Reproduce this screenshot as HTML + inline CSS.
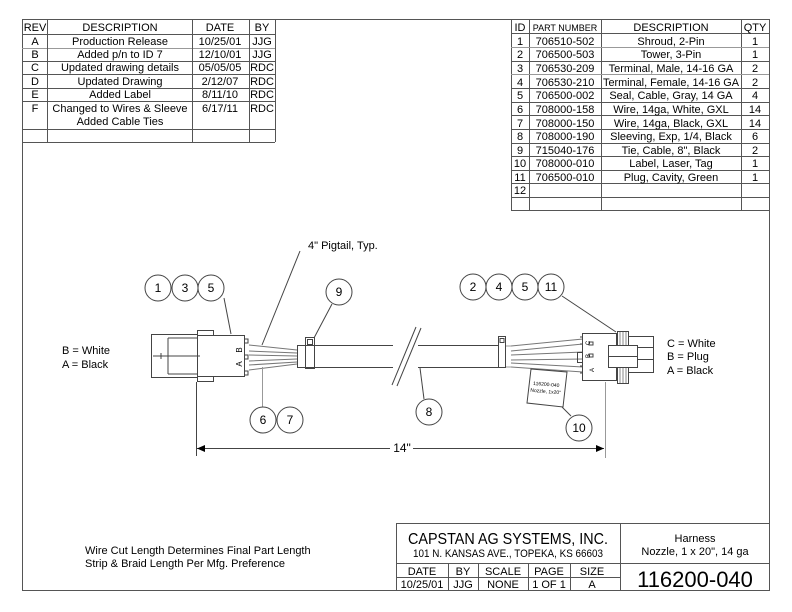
<!DOCTYPE html>
<html><head><meta charset="utf-8"><style>
html,body{margin:0;padding:0;background:#fff}
svg{display:block}
text{font-family:"Liberation Sans",Arial,sans-serif;fill:#000}
</style></head><body>
<svg width="792" height="612" viewBox="0 0 792 612" xmlns="http://www.w3.org/2000/svg">
<g stroke="#555" stroke-width="1" fill="none" shape-rendering="crispEdges">
<rect x="22.5" y="19.5" width="747" height="571"/>
<line x1="22" y1="34.5" x2="275" y2="34.5"/>
<line x1="22" y1="48.5" x2="275" y2="48.5" stroke="#999"/>
<line x1="22" y1="61.5" x2="275" y2="61.5"/>
<line x1="22" y1="74.5" x2="275" y2="74.5"/>
<line x1="22" y1="88.5" x2="275" y2="88.5"/>
<line x1="22" y1="101.5" x2="275" y2="101.5"/>
<line x1="22" y1="129.5" x2="275" y2="129.5"/>
<line x1="22" y1="142.5" x2="275" y2="142.5"/>
<line x1="47.5" y1="19" x2="47.5" y2="142"/>
<line x1="192.5" y1="19" x2="192.5" y2="142"/>
<line x1="249.5" y1="19" x2="249.5" y2="142"/>
<line x1="275.5" y1="19" x2="275.5" y2="142"/>
<line x1="511.5" y1="19" x2="511.5" y2="210"/>
<line x1="529.5" y1="19" x2="529.5" y2="210"/>
<line x1="601.5" y1="19" x2="601.5" y2="210"/>
<line x1="741.5" y1="19" x2="741.5" y2="210"/>
<line x1="511" y1="33.5" x2="769" y2="33.5"/>
<line x1="511" y1="47.5" x2="769" y2="47.5" stroke="#999"/>
<line x1="511" y1="61.5" x2="769" y2="61.5"/>
<line x1="511" y1="74.5" x2="769" y2="74.5" stroke="#999"/>
<line x1="511" y1="88.5" x2="769" y2="88.5"/>
<line x1="511" y1="102.5" x2="769" y2="102.5"/>
<line x1="511" y1="115.5" x2="769" y2="115.5"/>
<line x1="511" y1="129.5" x2="769" y2="129.5"/>
<line x1="511" y1="143.5" x2="769" y2="143.5"/>
<line x1="511" y1="156.5" x2="769" y2="156.5"/>
<line x1="511" y1="170.5" x2="769" y2="170.5"/>
<line x1="511" y1="183.5" x2="769" y2="183.5"/>
<line x1="511" y1="197.5" x2="769" y2="197.5"/>
<line x1="511" y1="210.5" x2="769" y2="210.5"/>
<line x1="396.5" y1="523" x2="396.5" y2="590"/>
<line x1="396" y1="523.5" x2="769" y2="523.5"/>
<line x1="396" y1="563.5" x2="769" y2="563.5"/>
<line x1="396" y1="577.5" x2="620" y2="577.5"/>
<line x1="620.5" y1="523" x2="620.5" y2="590"/>
<line x1="448.5" y1="563" x2="448.5" y2="590"/>
<line x1="478.5" y1="563" x2="478.5" y2="590"/>
<line x1="528.5" y1="563" x2="528.5" y2="590"/>
<line x1="570.5" y1="563" x2="570.5" y2="590"/>
</g>

<g font-size="11" text-anchor="middle">
<text x="35" y="31">REV</text><text x="120" y="31">DESCRIPTION</text><text x="220" y="31">DATE</text><text x="262" y="31">BY</text>
<text x="35" y="45">A</text><text x="120" y="45">Production Release</text><text x="220" y="45">10/25/01</text><text x="262" y="45">JJG</text>
<text x="35" y="58">B</text><text x="120" y="58">Added p/n to ID 7</text><text x="220" y="58">12/10/01</text><text x="262" y="58">JJG</text>
<text x="35" y="71">C</text><text x="120" y="71">Updated drawing details</text><text x="220" y="71">05/05/05</text><text x="262" y="71">RDC</text>
<text x="35" y="85">D</text><text x="120" y="85">Updated Drawing</text><text x="220" y="85">2/12/07</text><text x="262" y="85">RDC</text>
<text x="35" y="98">E</text><text x="120" y="98">Added Label</text><text x="220" y="98">8/11/10</text><text x="262" y="98">RDC</text>
<text x="35" y="112">F</text><text x="120" y="112">Changed to Wires &amp; Sleeve</text><text x="220" y="112">6/17/11</text><text x="262" y="112">RDC</text>
<text x="120" y="125">Added Cable Ties</text>

<text x="520" y="31">ID</text><text x="565" y="31" font-size="9">PART NUMBER</text><text x="671" y="31">DESCRIPTION</text><text x="755" y="31">QTY</text>
<text x="520" y="45">1</text><text x="565" y="45">706510-502</text><text x="671" y="45">Shroud, 2-Pin</text><text x="755" y="45">1</text>
<text x="520" y="58">2</text><text x="565" y="58">706500-503</text><text x="671" y="58">Tower, 3-Pin</text><text x="755" y="58">1</text>
<text x="520" y="72">3</text><text x="565" y="72">706530-209</text><text x="671" y="72">Terminal, Male, 14-16 GA</text><text x="755" y="72">2</text>
<text x="520" y="86">4</text><text x="565" y="86">706530-210</text><text x="671" y="86" textLength="136" lengthAdjust="spacingAndGlyphs">Terminal, Female, 14-16 GA</text><text x="755" y="86">2</text>
<text x="520" y="99">5</text><text x="565" y="99">706500-002</text><text x="671" y="99">Seal, Cable, Gray, 14 GA</text><text x="755" y="99">4</text>
<text x="520" y="113">6</text><text x="565" y="113">708000-158</text><text x="671" y="113">Wire, 14ga, White, GXL</text><text x="755" y="113">14</text>
<text x="520" y="127">7</text><text x="565" y="127">708000-150</text><text x="671" y="127">Wire, 14ga, Black, GXL</text><text x="755" y="127">14</text>
<text x="520" y="140">8</text><text x="565" y="140">708000-190</text><text x="671" y="140">Sleeving, Exp, 1/4, Black</text><text x="755" y="140">6</text>
<text x="520" y="154">9</text><text x="565" y="154">715040-176</text><text x="671" y="154">Tie, Cable, 8", Black</text><text x="755" y="154">2</text>
<text x="520" y="167">10</text><text x="565" y="167">708000-010</text><text x="671" y="167">Label, Laser, Tag</text><text x="755" y="167">1</text>
<text x="520" y="181">11</text><text x="565" y="181">706500-010</text><text x="671" y="181">Plug, Cavity, Green</text><text x="755" y="181">1</text>
<text x="520" y="194">12</text>

<text x="508" y="544" font-size="16" textLength="200" lengthAdjust="spacingAndGlyphs">CAPSTAN AG SYSTEMS, INC.</text>
<text x="508" y="557" font-size="11" textLength="190" lengthAdjust="spacingAndGlyphs">101 N. KANSAS AVE., TOPEKA, KS 66603</text>
<text x="695" y="542" font-size="11">Harness</text>
<text x="695" y="555" font-size="11">Nozzle, 1 x 20", 14 ga</text>
<text x="422" y="575">DATE</text><text x="463" y="575">BY</text><text x="503" y="575">SCALE</text><text x="549" y="575">PAGE</text><text x="592" y="575">SIZE</text>
<text x="422" y="588">10/25/01</text><text x="463" y="588">JJG</text><text x="503" y="588">NONE</text><text x="549" y="588">1 OF 1</text><text x="592" y="588">A</text>
<text x="695" y="587" font-size="22">116200-040</text>
</g>

<g font-size="11">
<text x="85" y="554">Wire Cut Length Determines Final Part Length</text>
<text x="85" y="567">Strip &amp; Braid Length Per Mfg. Preference</text>
<text x="62" y="354">B = White</text>
<text x="62" y="368">A = Black</text>
<text x="667" y="347">C = White</text>
<text x="667" y="360">B = Plug</text>
<text x="667" y="374">A = Black</text>
<text x="308" y="249">4" Pigtail, Typ.</text>
</g>

<g stroke="#444" stroke-width="1" fill="none">
<rect x="151.5" y="334.5" width="46" height="43"/>
<rect x="197.5" y="335.5" width="47" height="41"/>
<rect x="197.5" y="330.5" width="16" height="5"/>
<rect x="197.5" y="376.5" width="16" height="5"/>
<line x1="168" y1="338" x2="197" y2="338"/>
<line x1="168" y1="374" x2="197" y2="374"/>
<line x1="168" y1="338" x2="168" y2="374"/>
<line x1="153" y1="356" x2="200" y2="356"/>
<line x1="161" y1="353" x2="161" y2="359"/>
<path d="M244 339h4v4h-4M244 355h4v4h-4M244 371h4v4h-4"/>
<path d="M249 345L297 350M249 351L297 353M249 355L297 356M249 361L297 359M249 365L297 362M249 370L297 364" stroke="#777"/>
<line x1="297" y1="345.5" x2="393" y2="345.5"/>
<line x1="297" y1="367.5" x2="393" y2="367.5"/>
<line x1="418" y1="345.5" x2="498" y2="345.5"/>
<line x1="418" y1="367.5" x2="498" y2="367.5"/>
<line x1="297.5" y1="345" x2="297.5" y2="368"/>
<rect x="305.5" y="337.5" width="9" height="31"/>
<rect x="307.5" y="339.5" width="5" height="5"/>
<line x1="392" y1="385" x2="416" y2="327"/>
<line x1="397" y1="386" x2="421" y2="328"/>
<rect x="498.5" y="336.5" width="7" height="31"/>
<rect x="500" y="338.5" width="4" height="4"/>
<line x1="506" y1="346" x2="511" y2="346" stroke="#999"/>
<line x1="506" y1="367" x2="511" y2="367" stroke="#999"/>
<path d="M511 346L583 339M511 351L583 344M511 355L583 352M511 360L583 359M511 363L583 367M511 367L583 372" stroke="#777"/>
<rect x="582.5" y="333.5" width="34" height="47"/>
<rect x="577.5" y="352.5" width="5" height="10"/>
<path d="M580 337h3M580 344h3M580 366h3M580 373h3"/>
<rect x="589" y="342" width="4" height="3"/>
<rect x="589" y="354" width="4" height="3"/>
<text x="588" y="372" font-size="6" transform="rotate(-90 591 369)" stroke="none" fill="#000">A</text>
<rect x="617.5" y="331.5" width="11" height="52"/>
<path d="M620 332v51M623 332v51M626 332v51" stroke="#888"/>
<rect x="628.5" y="336.5" width="25" height="11"/>
<rect x="628.5" y="347.5" width="25" height="12"/>
<rect x="628.5" y="359.5" width="25" height="13"/>
<rect x="608.5" y="345.5" width="29" height="11" fill="#fff"/>
<rect x="608.5" y="356.5" width="29" height="11" fill="#fff"/>
<polygon points="531,369 567,372 563,407 527,403"/>
<line x1="196.5" y1="382" x2="196.5" y2="456"/>
<line x1="605.5" y1="382" x2="605.5" y2="458" stroke="#999"/>
<line x1="197" y1="448.5" x2="390" y2="448.5"/>
<line x1="413" y1="448.5" x2="604" y2="448.5"/>
<line x1="224" y1="298" x2="231" y2="334"/>
<line x1="300" y1="251" x2="262" y2="345"/>
<line x1="332" y1="304" x2="314" y2="338"/>
<line x1="262.5" y1="367" x2="262.5" y2="407" stroke="#999"/>
<line x1="424" y1="399" x2="420" y2="368"/>
<line x1="562" y1="296" x2="616" y2="332"/>
<line x1="571" y1="416" x2="562" y2="407"/>
<circle cx="158" cy="288" r="13"/><circle cx="185" cy="288" r="13"/><circle cx="211" cy="288" r="13"/>
<circle cx="339" cy="292" r="13"/>
<circle cx="263" cy="420" r="13"/><circle cx="290" cy="420" r="13"/>
<circle cx="429" cy="412" r="13"/>
<circle cx="473" cy="287" r="13"/><circle cx="499" cy="287" r="13"/><circle cx="525" cy="287" r="13"/><circle cx="551" cy="287" r="13"/>
<circle cx="579" cy="428" r="13"/>
</g>
<g fill="#000">
<polygon points="197,448.5 205,445 205,452"/>
<polygon points="604,448.5 596,445 596,452"/>
</g>
<g font-size="8" text-anchor="middle">
<text x="240" y="352" transform="rotate(-90 240 350)">B</text>
<text x="240" y="366" transform="rotate(-90 240 364)">A</text>
<text x="588" y="345" transform="rotate(-90 588 343)" font-size="6">C</text>
<text x="588" y="358" transform="rotate(-90 588 356)" font-size="6">B</text>
</g>
<g font-size="5" text-anchor="middle" transform="rotate(5 546 388)">
<text x="546" y="386">116200-040</text>
<text x="546" y="393">Nozzle, 1x20"</text>
</g>
<g font-size="12" text-anchor="middle">
<text x="158" y="292">1</text><text x="185" y="292">3</text><text x="211" y="292">5</text>
<text x="339" y="296">9</text>
<text x="263" y="424">6</text><text x="290" y="424">7</text>
<text x="429" y="416">8</text>
<text x="473" y="291">2</text><text x="499" y="291">4</text><text x="525" y="291">5</text><text x="551" y="291">11</text>
<text x="579" y="432">10</text>
<text x="402" y="452">14"</text>
</g>
</svg>
</body></html>
